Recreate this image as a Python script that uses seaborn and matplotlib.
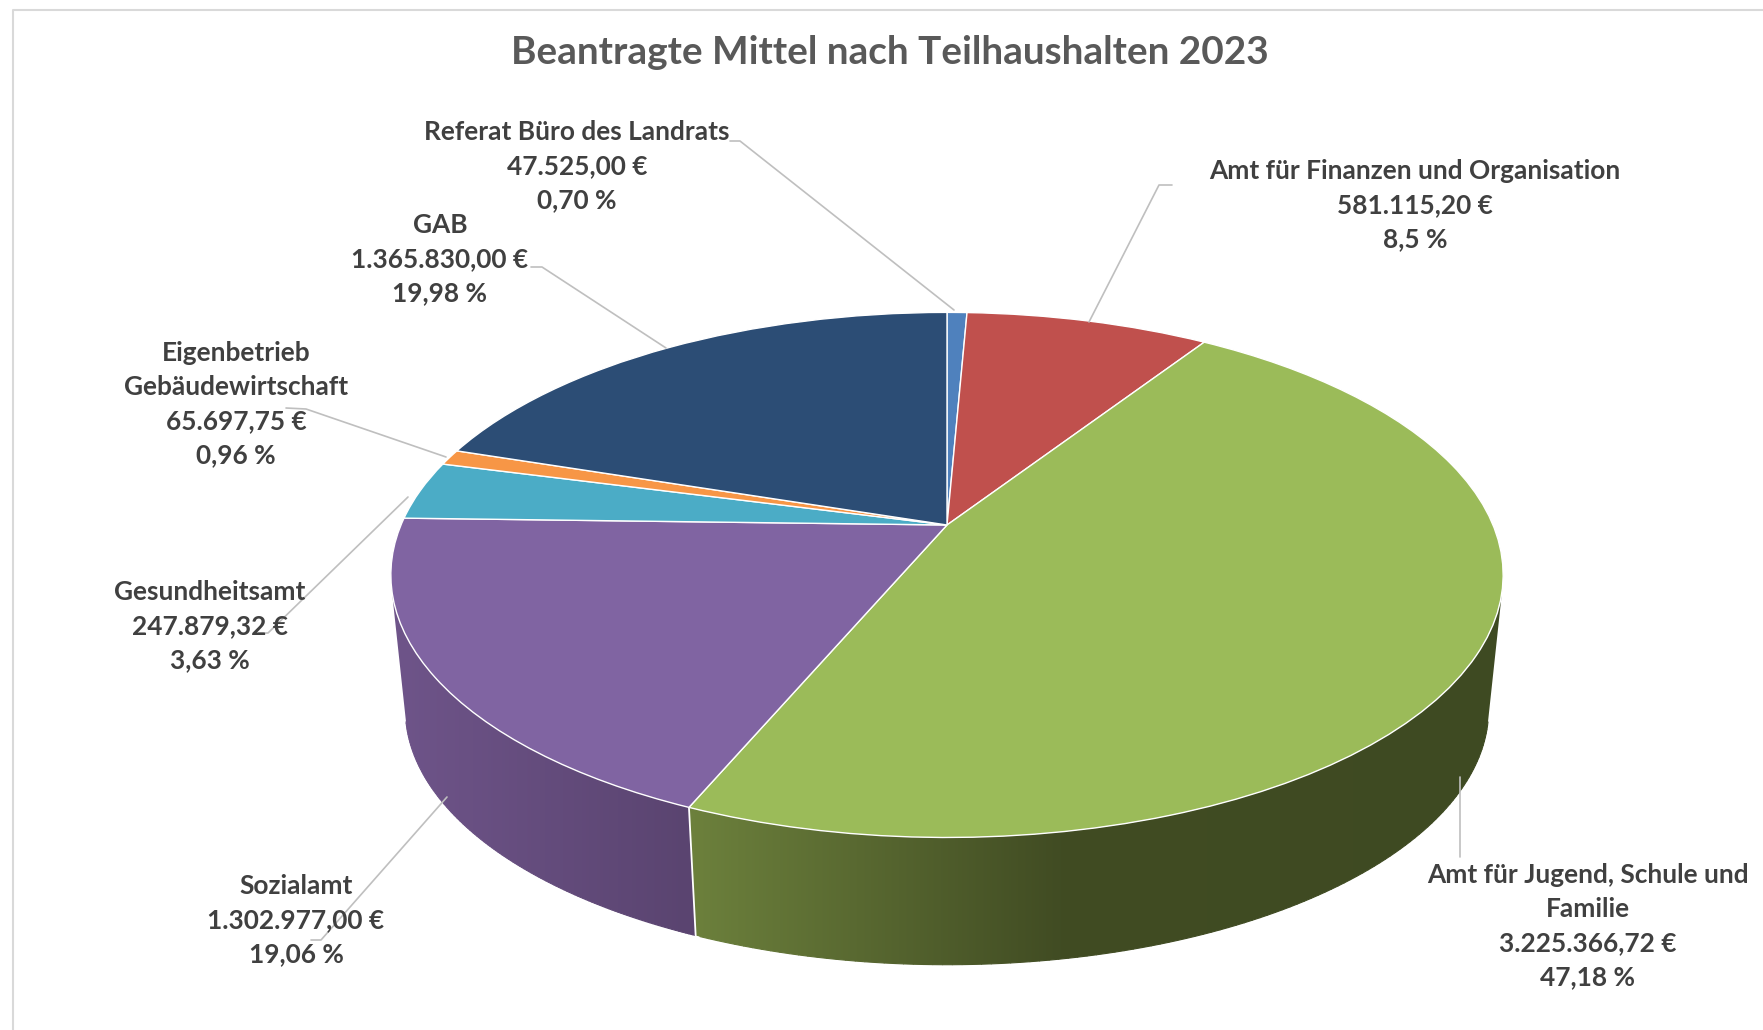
import numpy as np
import seaborn as sns
import matplotlib.pyplot as plt
import matplotlib.transforms as mtransforms
from matplotlib.patches import Polygon
from matplotlib.colors import to_rgb

names = ["Referat Büro des Landrats", "Amt für Finanzen und Organisation", "Amt für Jugend, Schule und\nFamilie",
         "Sozialamt", "Gesundheitsamt", "Eigenbetrieb\nGebäudewirtschaft", "GAB"]
amounts = [47525.00, 581115.20, 3225366.72, 1302977.00, 247879.32, 65697.75, 1365830.00]
amount_labels = ["47.525,00 €", "581.115,20 €", "3.225.366,72 €", "1.302.977,00 €", "247.879,32 €", "65.697,75 €", "1.365.830,00 €"]
percent_labels = ["0,70 %", "8,5 %", "47,18 %", "19,06 %", "3,63 %", "0,96 %", "19,98 %"]
colors = ["#4f81bd", "#c0504d", "#9bbb59", "#8064a2", "#4bacc6", "#f79646", "#2c4d75"]

# where each label sits, in pixels of the 1763x1030 picture
label_x = [577, 1415, 1588, 296, 210, 236, 440]
label_y = [166, 205, 926, 920, 626, 404, 259]
leaders = [
    [(730, 141), (740, 141), (954, 310)],
    [(1089, 322), (1159, 185), (1172, 185)],
    [(1460, 777), (1460, 857)],
    [(447, 797), (321, 940), (311, 940)],
    [(408, 497), (268, 633), (258, 633)],
    [(446, 457), (306, 409), (286, 408)],
    [(666, 348), (542, 267), (531, 267)],
]

sns.set_theme(style="white")
plt.rcParams["font.family"] = ["Lato", "DejaVu Sans"]

# perspective of the pie seen from above
APEX_X, APEX_Y = 947, 525
RX, RY, TILT = 546, 253, 0.19
DEPTH, FAR = 135.5, 0.974


class Tilted(mtransforms.Transform):
    input_dims = 2
    output_dims = 2

    def __init__(self, scale=1.0, drop=0.0):
        super().__init__()
        self.scale = scale
        self.drop = drop

    def transform_non_affine(self, values):
        values = np.asarray(values)
        w = 1 + TILT * values[:, 1]
        return np.column_stack([APEX_X + self.scale * RX * values[:, 0] / w,
                                APEX_Y + self.drop - self.scale * RY * values[:, 1] / w])


def rim(angles, tr):
    rad = np.radians(angles)
    return tr.transform(np.column_stack([np.sin(rad), np.cos(rad)]))


fig = plt.figure(figsize=(17.63, 10.30), dpi=100)
ax = fig.add_axes([0, 0, 1, 1])

top = Tilted()
bottom = Tilted(FAR, DEPTH)
edges = 360 * np.cumsum([0] + amounts) / sum(amounts)

# side wall: only the green and the purple slice can be seen, shade runs left to right
# normal = direction of the straight silhouette line on that side of the pie
walls = [
    (edges[2], edges[3], [695, 1060, 1500], ["#6c803c", "#414c23", "#3e4a22"], (133, 14)),
    (edges[3], edges[4], [400, 690], ["#6e5489", "#5a4470"], (-133, 14)),
]
for start, stop, shade_x, shade_c, normal in walls:
    steps = np.linspace(start, stop, 400)
    up = rim(steps, top)
    low = rim(steps, bottom)
    i_up = np.argmax(up @ np.array(normal))
    i_low = np.argmax(low @ np.array(normal))
    if normal[0] > 0:
        up, low = up[i_up:], low[i_low:]
    else:
        up, low = up[:i_up + 1], low[:i_low + 1]
    poly = np.vstack([up, low[::-1]])
    shade_rgb = np.array([to_rgb(c) for c in shade_c])
    xs = np.arange(poly[:, 0].min(), poly[:, 0].max() + 1)
    img = np.column_stack([np.interp(xs, shade_x, shade_rgb[:, i]) for i in range(3)])[np.newaxis, :, :]
    im = ax.imshow(img, extent=(xs[0], xs[-1], poly[:, 1].max(), poly[:, 1].min()), aspect="auto",
                   interpolation="bilinear", zorder=1)
    outline = Polygon(poly, closed=True, facecolor="none", edgecolor="none", transform=ax.transData)
    ax.add_patch(outline)
    im.set_clip_path(outline)
    # soften the clipped lower edge
    for p0, p1 in zip(low[:-1:2], low[2::2]):
        col = [np.interp(p0[0], shade_x, shade_rgb[:, i]) for i in range(3)]
        ax.plot([p0[0], p1[0]], [p0[1], p1[1]], color=col, lw=0.8, zorder=1)

seam_up = rim(np.array([edges[3]]), top)
seam_low = rim(np.array([edges[3]]), bottom)
ax.plot([seam_up[0, 0], seam_low[0, 0]], [seam_up[0, 1], seam_low[0, 1]], color="white", lw=1.3, zorder=2)

wedges, _ = ax.pie(amounts, colors=colors, startangle=90, counterclock=False,
                   wedgeprops={"edgecolor": "white", "linewidth": 1.0})
for w in wedges:
    w.set_transform(top + ax.transData)
    w.set_zorder(3)

ax.set_aspect("auto")
ax.set_xlim(0, 1763)
ax.set_ylim(1030, 0)
ax.axis("off")

for pts in leaders:
    xs, ys = zip(*pts)
    ax.plot(xs, ys, color="#bfbfbf", lw=1.2, zorder=4)

for name, amount, pct, x, y in zip(names, amount_labels, percent_labels, label_x, label_y):
    ax.text(x, y, f"{name}\n{amount}\n{pct}", ha="center", va="center", fontsize=18.9, fontweight="bold",
            color="#404040", linespacing=1.49, zorder=5)

ax.text(890, 53, "Beantragte Mittel nach Teilhaushalten 2023", ha="center", va="center", fontsize=27.9,
        fontweight="bold", color="#595959", zorder=5)

ax.plot([13, 13, 1763], [1030, 10, 10], color="#d9d9d9", lw=1.5, zorder=0)

fig.savefig("out.png", dpi=100, facecolor="white")
